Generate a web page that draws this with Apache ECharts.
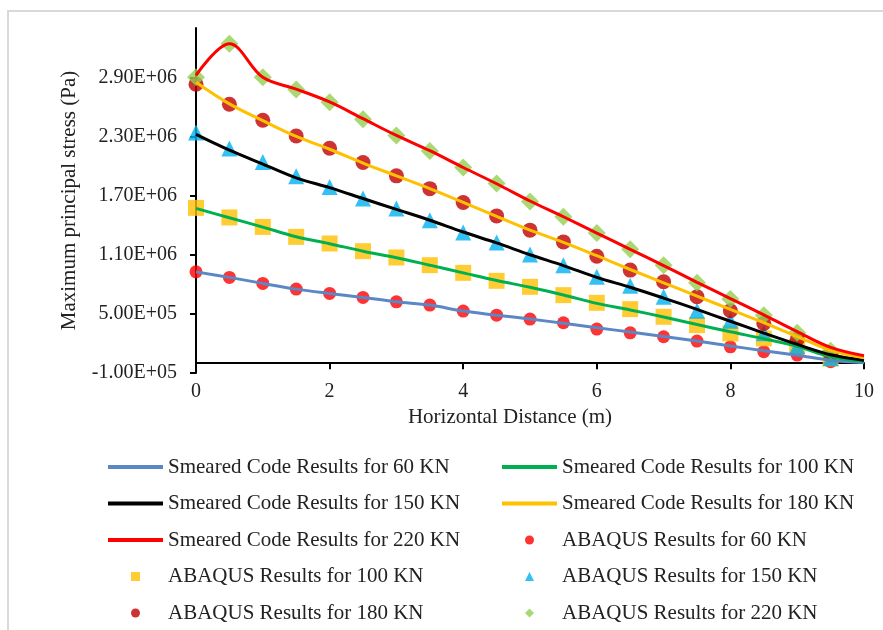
<!DOCTYPE html>
<html>
<head>
<meta charset="utf-8" />
<title>stress chart</title>
<script src="https://cdn.jsdelivr.net/npm/echarts@6/dist/echarts.min.js"></script>
<style>
  html, body { margin: 0; padding: 0; background: #fff; }
  #main { width: 883px; height: 630px; }
</style>
</head>
<body>
<div id="main"></div>
<script>
// distances of the ABAQUS points and of the smeared code curves (m)
var abaqusX = [0, 0.5, 1, 1.5, 2, 2.5, 3, 3.5, 4, 4.5, 5, 5.5, 6, 6.5, 7, 7.5, 8, 8.5, 9, 9.5];
var smearedX = [0, 0.5, 1, 1.5, 2, 2.5, 3, 3.5, 4, 4.5, 5, 5.5, 6, 6.5, 7, 7.5, 8, 8.5, 9, 9.5, 10];

// smeared code results (Pa)
var smeared60 = [926000, 870000, 809000, 751000, 707000, 667000, 622000, 589000, 528000, 487000, 447000, 405000, 360000, 315000, 270000, 225000, 175000, 125000, 80000, 30000, 5000];
var smeared100 = [1570000, 1475000, 1380000, 1282000, 1212000, 1136000, 1070000, 994000, 916000, 838000, 770000, 692000, 606000, 540000, 468000, 392000, 318000, 248000, 170000, 65000, 20000];
var smeared150 = [2320000, 2160000, 2020000, 1880000, 1780000, 1670000, 1560000, 1450000, 1330000, 1220000, 1100000, 990000, 870000, 770000, 660000, 545000, 425000, 305000, 190000, 85000, 30000];
var smeared180 = [2850000, 2630000, 2460000, 2300000, 2170000, 2030000, 1900000, 1770000, 1630000, 1490000, 1350000, 1225000, 1090000, 950000, 815000, 680000, 545000, 410000, 270000, 130000, 55000];
var smeared220 = [2920000, 3240000, 2900000, 2780000, 2650000, 2480000, 2310000, 2155000, 1985000, 1820000, 1645000, 1485000, 1320000, 1155000, 990000, 820000, 655000, 490000, 320000, 160000, 75000];

// ABAQUS results (Pa)
var abaqus60 = [926000, 870000, 809000, 751000, 707000, 667000, 622000, 589000, 528000, 487000, 447000, 410000, 346000, 308000, 268000, 224000, 166000, 116000, 82000, 14000];
var abaqus100 = [1575000, 1478000, 1382000, 1281000, 1214000, 1136000, 1072000, 994000, 916000, 835000, 774000, 690000, 612000, 548000, 470000, 386000, 302000, 251000, 166000, 49000];
var abaqus150 = [2340000, 2177000, 2040000, 1896000, 1788000, 1670000, 1569000, 1450000, 1326000, 1224000, 1103000, 994000, 876000, 784000, 673000, 531000, 430000, 302000, 173000, 49000];
var abaqus180 = [2830000, 2626000, 2464000, 2305000, 2180000, 2035000, 1900000, 1770000, 1630000, 1494000, 1349000, 1230000, 1085000, 944000, 825000, 673000, 531000, 403000, 241000, 92000];
var abaqus220 = [2900000, 3240000, 2900000, 2775000, 2646000, 2474000, 2310000, 2153000, 1984000, 1822000, 1640000, 1484000, 1320000, 1156000, 994000, 815000, 650000, 487000, 308000, 126000];

// tick labels
var yTicks = [-100000, 500000, 1100000, 1700000, 2300000, 2900000];
var xTicks = [0, 2, 4, 6, 8, 10];

var FONT = 'Liberation Serif';
// legend icons (paths keep their aspect ratio in the legend box)
var LINE_ICON = 'path://M0,0H55V4H0Z';
var SQUARE_ICON = 'path://M0,0H10V10H0Z';
var TRIANGLE_ICON = 'path://M5,0L10,10H0Z';
var DIAMOND_ICON = 'path://M5,0L10,5L5,10L0,5Z';

function sci(v) {
  var s = v.toExponential(2).split('e');
  var e = parseInt(s[1], 10);
  var a = Math.abs(e);
  return s[0] + 'E' + (e < 0 ? '-' : '+') + (a < 10 ? '0' : '') + a;
}

function pairs(xs, ys) {
  return xs.map(function (x, i) { return [x, ys[i]]; });
}

function lineSeries(name, color, ys) {
  return {
    name: name,
    type: 'line',
    smooth: 0.35,
    symbol: 'none',
    lineStyle: { color: color, width: 3 },
    itemStyle: { color: color },
    data: pairs(smearedX, ys)
  };
}

function pointSeries(name, symbol, size, color, ys) {
  return {
    name: name,
    type: 'scatter',
    symbol: symbol,
    symbolSize: size,
    symbolKeepAspect: true,
    itemStyle: { color: color },
    data: pairs(abaqusX, ys)
  };
}

var myChart = echarts.init(document.getElementById('main'));

var legendBase = {
  orient: 'vertical',
  top: 451,
  itemWidth: 55,
  itemHeight: 9,
  itemGap: 14.5,
  symbolKeepAspect: true,
  textStyle: { fontFamily: FONT, fontSize: 21, color: '#222', lineHeight: 22 }
};

myChart.setOption({
  backgroundColor: '#fff',
  animation: false,
  graphic: [{
    type: 'rect',
    shape: { x: 8, y: 11, width: 900, height: 700 },
    style: { fill: 'none', stroke: '#d9d9d9', lineWidth: 2 },
    silent: true
  }],
  grid: { left: 196, right: 19, top: 28, bottom: 257, containLabel: false, outerBoundsMode: 'none' },
  legend: [
    Object.assign({}, legendBase, {
      left: 103,
      data: [
        { name: 'Smeared Code Results for 60 KN', icon: LINE_ICON },
        { name: 'Smeared Code Results for 150 KN', icon: LINE_ICON },
        { name: 'Smeared Code Results for 220 KN', icon: LINE_ICON },
        { name: 'ABAQUS Results for 100 KN', icon: SQUARE_ICON },
        { name: 'ABAQUS Results for 180 KN', icon: 'circle' }
      ]
    }),
    Object.assign({}, legendBase, {
      left: 497,
      data: [
        { name: 'Smeared Code Results for 100 KN', icon: LINE_ICON },
        { name: 'Smeared Code Results for 180 KN', icon: LINE_ICON },
        { name: 'ABAQUS Results for 60 KN', icon: 'circle' },
        { name: 'ABAQUS Results for 150 KN', icon: TRIANGLE_ICON },
        { name: 'ABAQUS Results for 220 KN', icon: DIAMOND_ICON }
      ]
    })
  ],
  xAxis: [{
    type: 'value',
    min: 0, max: 10, interval: 2,
    position: 'bottom',
    axisLine: { onZero: true, lineStyle: { color: '#000', width: 2 } },
    axisTick: { show: true, length: 6, lineStyle: { color: '#000', width: 2 } },
    axisLabel: { show: false },
    splitLine: { show: false }
  }, {
    type: 'value',
    min: 0, max: 10, interval: 2,
    position: 'bottom',
    axisLine: { show: false, onZero: false },
    axisTick: { show: false },
    splitLine: { show: false },
    axisLabel: {
      margin: 9,
      fontFamily: FONT, fontSize: 20, color: '#222',
      customValues: xTicks
    },
    name: 'Horizontal Distance (m)',
    nameLocation: 'middle',
    nameGap: 32,
    nameTextStyle: { fontFamily: FONT, fontSize: 21, color: '#222', padding: [0, 40, 0, 0] }
  }],
  yAxis: {
    type: 'value',
    min: -100000, max: 3400000, interval: 600000,
    axisLine: { show: true, lineStyle: { color: '#000', width: 2 } },
    axisTick: { show: true, length: 6, lineStyle: { color: '#000', width: 2 }, customValues: yTicks },
    splitLine: { show: false },
    axisLabel: {
      margin: 19,
      fontFamily: FONT, fontSize: 20, color: '#222',
      customValues: yTicks,
      formatter: sci
    },
    name: 'Maximum principal stress (Pa)',
    nameLocation: 'middle',
    nameGap: 116,
    nameTextStyle: { fontFamily: FONT, fontSize: 21, color: '#222' }
  },
  series: [
    lineSeries('Smeared Code Results for 60 KN', '#5b87c5', smeared60),
    lineSeries('Smeared Code Results for 100 KN', '#00b050', smeared100),
    lineSeries('Smeared Code Results for 150 KN', '#000000', smeared150),
    lineSeries('Smeared Code Results for 180 KN', '#ffc000', smeared180),
    lineSeries('Smeared Code Results for 220 KN', '#ff0000', smeared220),
    pointSeries('ABAQUS Results for 60 KN', 'circle', 13, '#ff0000', abaqus60),
    pointSeries('ABAQUS Results for 100 KN', 'rect', 16, '#ffc000', abaqus100),
    pointSeries('ABAQUS Results for 150 KN', 'triangle', 16, '#00b0f0', abaqus150),
    pointSeries('ABAQUS Results for 180 KN', 'circle', 15, '#c00000', abaqus180),
    pointSeries('ABAQUS Results for 220 KN', 'diamond', 18, '#92d050', abaqus220)
  ]
});

window.onresize = function () {
  myChart.resize();
};
</script>
</body>
</html>
